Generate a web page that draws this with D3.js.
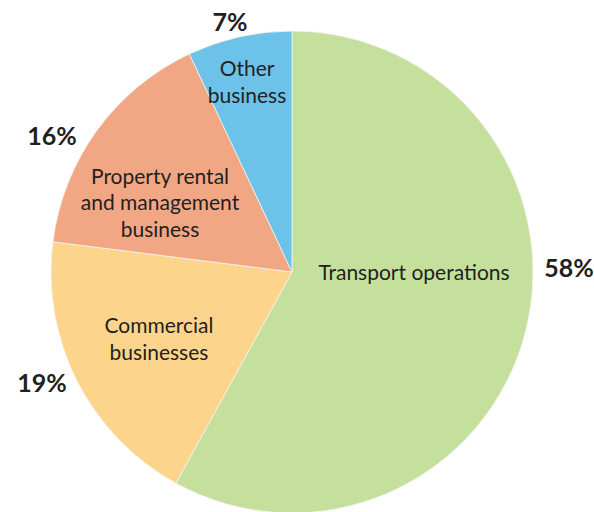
<!DOCTYPE html>
<html><head><meta charset="utf-8">
<script src="https://cdn.jsdelivr.net/npm/d3@7"></script>
<style>html,body{margin:0;padding:0;background:#fff;}svg{display:block;}</style>
</head><body>
<svg id="c" width="594" height="512"></svg>
<script>
const categories = ["Transport operations", "Commercial businesses", "Property rental and management business", "Other business"];
const labelLines = [["Transport operations"], ["Commercial", "businesses"], ["Property rental", "and management", "business"], ["Other", "business"]];
const values = [58, 19, 16, 7];
const percentLabels = ["58%", "19%", "16%", "7%"];
const colors = ["#c5df9c", "#fdd48b", "#f2a784", "#6dc2ea"];

const svg = d3.select("#c");
const cx = 292, cy = 272, R = 241;
const g = svg.append("g").attr("transform", `translate(${cx},${cy})`);

const pie = d3.pie().sort(null).value(d => d)(values);
const arc = d3.arc().innerRadius(0).outerRadius(R);

g.selectAll("path").data(pie).join("path")
  .attr("d", arc)
  .attr("fill", (d, i) => colors[i])
  .attr("stroke", "#f4f4ee").attr("stroke-width", 0.8);

// label placement (offsets from centre; y = mean baseline)
const inner = [[122, 8], [-133, 74.5], [-132, -62], [-45, -182.5]];
const outer = [[277, 5], [-250, 120], [-240, -127], [-62, -241]];
const font = "Lato, 'Open Sans', sans-serif";

labelLines.forEach((lines, i) => {
  const n = lines.length, lh = 26.5;
  const t = g.append("text")
    .attr("text-anchor", "middle")
    .attr("font-family", font).attr("font-size", 21)
    .attr("fill", "#231f20");
  lines.forEach((l, k) => {
    t.append("tspan").attr("x", inner[i][0])
      .attr("y", inner[i][1] + (k - (n - 1) / 2) * lh)
      .text(l);
  });
});

percentLabels.forEach((p, i) => {
  g.append("text")
    .attr("x", outer[i][0]).attr("y", outer[i][1])
    .attr("text-anchor", "middle")
    .attr("font-family", font).attr("font-size", 25).attr("font-weight", 700)
    .attr("fill", "#231f20")
    .text(p);
});
</script>
</body></html>
